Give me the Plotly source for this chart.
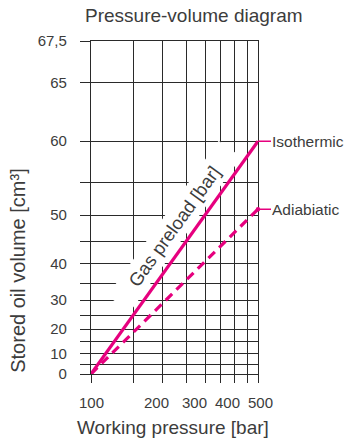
import numpy as np
import plotly.graph_objects as go

# ---------------- data ----------------
pressure_grid = [100, 150, 200, 250, 300, 350, 400, 450, 500]          # bar
pressure_labels = ["100", "", "200", "", "300", "", "400", "", "500"]
volume_grid = [0, 5, 10, 15, 20, 25, 30, 35, 40, 45, 50, 55, 60, 65, 67.5]  # cm3
volume_labels = {0: "0", 10: "10", 20: "20", 30: "30", 40: "40", 50: "50",
                 60: "60", 65: "65", 67.5: "67,5"}

iso_pressure = [100, 500]
iso_volume = [0, 60]
adia_pressure = [100, 500]
adia_volume = [0, 51]

V_NOMINAL = 75.0   # nominal volume defining the nomogram's volume scale

PINK = "#e6007e"
GRID = "#2a2a2a"
TXT = "#3c3c3c"
FONT = "Liberation Sans, Arial, sans-serif"

# horizontal nudges of the crowded pressure labels (px)
label_shift = {"100": 0, "200": -6, "300": -11, "400": -7, "500": 2}


def vscale(v):
    """position of a volume value on the nomogram's volume scale"""
    return -np.log(1.0 - np.asarray(v, dtype=float) / V_NOMINAL)


fig = go.Figure()

fig.add_trace(go.Scatter(
    x=adia_pressure, y=vscale(adia_volume), mode="lines",
    line=dict(color=PINK, width=3.2, dash="9px,6px"),
    hoverinfo="skip", showlegend=False))
fig.add_trace(go.Scatter(
    x=iso_pressure, y=vscale(iso_volume), mode="lines",
    line=dict(color=PINK, width=3.2),
    hoverinfo="skip", showlegend=False))

ann = []
# white band behind the rotated label
ann.append(dict(
    text="\u00a0\u00a0\u00a0\u00a0Gas preload [bar]\u00a0\u00a0\u00a0\u00a0",
    xref="paper", yref="paper", x=0.497, y=0.444,
    xanchor="center", yanchor="middle", textangle=-54.3,
    showarrow=False, bgcolor="white", borderpad=3,
    font=dict(family=FONT, size=18.5, color=TXT)))
# curve labels
ann.append(dict(
    text="Isothermic", x=np.log10(iso_pressure[-1]), y=float(vscale(iso_volume[-1])),
    xref="x", yref="y", ax=13, ay=0, axref="pixel", ayref="pixel",
    xanchor="left", yanchor="middle", showarrow=True, arrowhead=0,
    arrowcolor=PINK, arrowwidth=1.6, borderpad=0,
    font=dict(family=FONT, size=15.5, color=TXT)))
ann.append(dict(
    text="Adiabiatic", x=np.log10(adia_pressure[-1]), y=float(vscale(adia_volume[-1])),
    xref="x", yref="y", ax=13, ay=0, axref="pixel", ayref="pixel",
    xanchor="left", yanchor="middle", showarrow=True, arrowhead=6,
    arrowsize=0.7, arrowcolor=PINK, arrowwidth=1.6, borderpad=0,
    font=dict(family=FONT, size=15.5, color=TXT)))
# pressure tick labels
for p, lab in zip(pressure_grid, pressure_labels):
    if lab:
        ann.append(dict(text=lab, x=np.log10(p), y=-0.0856, xref="x", yref="paper",
                        xanchor="center", yanchor="middle", showarrow=False,
                        xshift=label_shift[lab],
                        font=dict(family=FONT, size=15, color=TXT)))
# titles
ann.append(dict(text="Pressure-volume diagram", xref="paper", yref="paper",
                x=0.6156, y=1.078, xanchor="center", yanchor="middle",
                showarrow=False, font=dict(family=FONT, size=19, color=TXT)))
ann.append(dict(text="Working pressure [bar]", xref="paper", yref="paper",
                x=0.491, y=-0.162, xanchor="center", yanchor="middle",
                showarrow=False, font=dict(family=FONT, size=19, color=TXT)))
ann.append(dict(text="Stored oil volume [cm³]", xref="paper", yref="paper",
                x=-0.437, y=0.31, xanchor="center", yanchor="middle",
                textangle=-90, showarrow=False,
                font=dict(family=FONT, size=20, color=TXT)))

fig.update_layout(
    width=345, height=439,
    margin=dict(l=91, r=87, t=41, b=65, autoexpand=False),
    paper_bgcolor="white", plot_bgcolor="white",
    showlegend=False,
    annotations=ann,
    font=dict(family=FONT, color=TXT),
)

fig.update_xaxes(
    type="log", range=[np.log10(pressure_grid[0]), np.log10(pressure_grid[-1])],
    tickmode="array", tickvals=pressure_grid, showticklabels=False,
    automargin=False,
    showgrid=True, gridcolor=GRID, gridwidth=1.3,
    showline=True, linecolor=GRID, linewidth=1.3, mirror=True,
    ticks="outside", ticklen=8, tickwidth=1.3, tickcolor=GRID,
    zeroline=False, fixedrange=True)

fig.update_yaxes(
    range=[float(vscale(volume_grid[0])), float(vscale(volume_grid[-1]))],
    tickmode="array", tickvals=[float(vscale(v)) for v in volume_grid],
    ticktext=[volume_labels.get(v, "") for v in volume_grid],
    automargin=False,
    showgrid=True, gridcolor=GRID, gridwidth=1.3,
    showline=True, linecolor=GRID, linewidth=1.3, mirror=True,
    ticks="outside", ticklen=10, tickwidth=1.3, tickcolor=GRID,
    tickfont=dict(family=FONT, size=15, color=TXT), ticklabelstandoff=10,
    zeroline=False, fixedrange=True)

fig.write_html("out.html", config={"displayModeBar": False},
               post_script="document.body.style.margin='0';"
                           "document.body.style.padding='0';")
